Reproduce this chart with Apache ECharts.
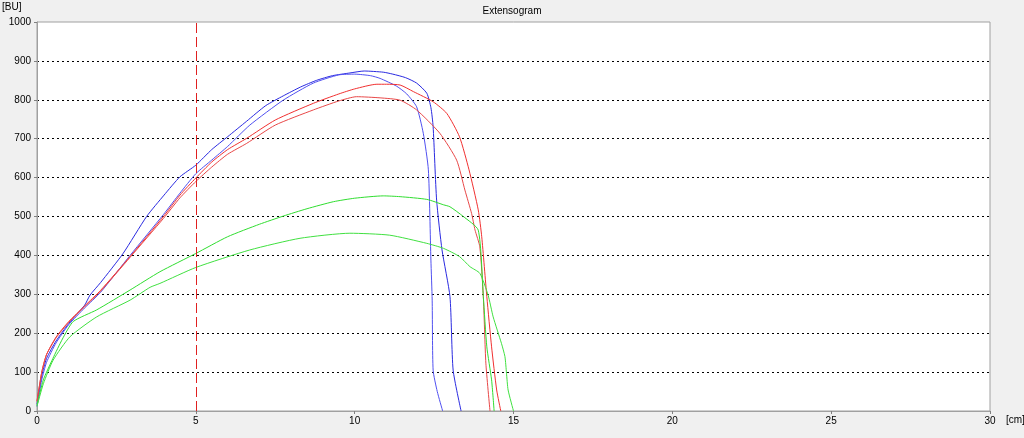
<!DOCTYPE html>
<html>
<head>
<meta charset="utf-8">
<script src="https://cdn.jsdelivr.net/npm/echarts@6/dist/echarts.min.js"></script>
<style>
html,body{margin:0;padding:0;background:#f0f0f0;}
#c{width:1024px;height:438px;}
</style>
</head>
<body>
<div id="c"></div>
<script>
const xTicks = [0, 5, 10, 15, 20, 25, 30];
const yTicks = [0, 100, 200, 300, 400, 500, 600, 700, 800, 900, 1000];

const blueAx = [0, 0.15, 0.3, 0.6, 1.0, 1.5, 1.67, 2.0, 2.71, 3.45, 4.0, 4.5, 5.0, 5.5, 6.0, 6.6, 7.2, 7.75, 8.3, 8.8, 9.3, 9.85, 10.3, 10.9, 11.2, 11.6, 11.95, 12.27, 12.4, 12.47, 12.58, 12.75, 13.0, 13.1, 13.35];
const blueAy = [18, 90, 135, 180, 225, 272, 298, 330, 405, 500, 555, 602, 632, 672, 705, 745, 785, 810, 833, 850, 862, 869, 874, 871, 866, 857, 843, 817, 780, 731, 542, 414, 294, 105, 0];

const blueBx = [0, 0.15, 0.3, 0.6, 1.0, 1.5, 2.0, 2.93, 3.98, 4.5, 5.0, 5.5, 6.0, 6.7, 7.75, 8.7, 9.5, 10.0, 10.5, 10.8, 11.32, 11.64, 11.95, 12.16, 12.32, 12.4, 12.44, 12.47, 12.6, 12.77];
const blueBy = [12, 80, 125, 175, 222, 265, 305, 400, 505, 560, 610, 645, 680, 735, 799, 843, 864, 866, 862, 855, 835, 815, 782, 714, 620, 388, 285, 105, 50, 0];

const redAx = [0, 0.15, 0.3, 0.6, 1.0, 1.5, 2.0, 2.93, 3.98, 4.5, 5.0, 5.5, 6.0, 6.6, 7.5, 8.7, 9.5, 10.0, 10.7, 11.0, 11.43, 11.85, 12.47, 12.9, 13.3, 13.6, 13.89, 14.0, 14.16, 14.31, 14.47, 14.6];
const redAy = [25, 100, 145, 190, 230, 270, 310, 397, 500, 555, 599, 640, 672, 701, 748, 791, 815, 828, 840, 840, 838, 821, 795, 765, 705, 620, 517, 448, 294, 165, 54, 0];

const redBx = [0, 0.15, 0.3, 0.6, 1.0, 1.5, 2.0, 2.93, 3.98, 4.5, 5.0, 5.5, 6.0, 6.6, 7.5, 8.7, 9.5, 10.06, 10.8, 11.43, 11.95, 12.68, 13.21, 13.47, 13.68, 13.79, 13.94, 14.05, 14.13, 14.26];
const redBy = [25, 100, 145, 188, 228, 268, 308, 395, 495, 548, 590, 627, 660, 688, 735, 774, 797, 808, 805, 799, 774, 714, 645, 568, 508, 465, 422, 294, 123, 0];

const greenAx = [0, 0.2, 0.5, 0.8, 1.14, 1.88, 2.93, 3.87, 5.0, 6.0, 7.0, 7.75, 8.5, 9.33, 10.0, 10.9, 11.43, 12.27, 12.8, 13.0, 13.42, 13.89, 14.05, 14.16, 14.31, 14.39];
const greenAy = [15, 80, 135, 185, 230, 260, 311, 358, 405, 448, 480, 501, 520, 538, 547, 553, 551, 544, 530, 525, 500, 465, 294, 165, 80, 0];

const greenBx = [0, 0.2, 0.51, 1.04, 1.88, 2.93, 3.56, 3.87, 5.0, 6.7, 8.28, 9.85, 11.1, 12.27, 12.8, 13.3, 13.63, 13.94, 14.2, 14.36, 14.62, 14.73, 14.78, 14.83, 15.0];
const greenBy = [12, 70, 131, 191, 242, 285, 318, 328, 369, 414, 444, 457, 452, 431, 418, 397, 371, 354, 298, 242, 174, 140, 97, 54, 0];

const markerX = 5;

function pairs(xs, ys) { return xs.map((x, i) => [x, ys[i]]); }

const chart = echarts.init(document.getElementById('c'), null, {renderer: 'canvas'});
const lineSeries = (name, xs, ys, color) => ({
  name, type: 'line', data: pairs(xs, ys), showSymbol: false, symbol: 'none',
  smooth: 0.2,
  lineStyle: {color, width: 1}, animation: false, z: 3
});
const font = 'Liberation Sans, Arial, sans-serif';
chart.setOption({
  backgroundColor: '#f0f0f0',
  animation: false,
  title: {text: 'Extensogram', left: 'center', top: 1,
    textStyle: {fontSize: 10, fontWeight: 'normal', color: '#000', fontFamily: font}},
  grid: {left: 37, right: 34, top: 22, bottom: 27, show: true, backgroundColor: '#ffffff', borderColor: '#a0a0a0', borderWidth: 1},
  xAxis: {type: 'value', min: 0, max: 30, interval: 5,
    axisLine: {show: true, lineStyle: {color: '#a0a0a0'}},
    axisTick: {show: true, length: 3, lineStyle: {color: '#808080'}},
    axisLabel: {color: '#000', fontSize: 10, fontFamily: font, margin: 5,
      formatter: v => xTicks.includes(v) ? String(v) : ''},
    splitLine: {show: false}},
  yAxis: {type: 'value', min: 0, max: 1000, interval: 100,
    axisLine: {show: true, lineStyle: {color: '#a0a0a0'}},
    axisTick: {show: true, length: 3, lineStyle: {color: '#808080'}},
    axisLabel: {color: '#000', fontSize: 10, fontFamily: font, margin: 6,
      formatter: v => yTicks.includes(v) ? String(v) : ''},
    splitLine: {show: true, showMinLine: false, showMaxLine: false, lineStyle: {color: '#000', type: [2, 3], width: 1}}},
  graphic: [
    {type: 'text', left: 2, top: 2, style: {text: '[BU]', fontSize: 10, fontFamily: font, fill: '#000'}},
    {type: 'text', left: 1006, top: 415, style: {text: '[cm]', fontSize: 10, fontFamily: font, fill: '#000'}}
  ],
  series: [
    Object.assign(lineSeries('Blue A', blueAx, blueAy, '#2a2ae0'), {
      markLine: {silent: true, symbol: 'none', label: {show: false},
        lineStyle: {color: '#e02020', type: [10, 4], width: 1},
        data: [{xAxis: markerX}], animation: false}
    }),
    lineSeries('Blue B', blueBx, blueBy, '#5050f0'),
    lineSeries('Red A', redAx, redAy, '#f03030'),
    lineSeries('Red B', redBx, redBy, '#e84848'),
    lineSeries('Green A', greenAx, greenAy, '#30dd30'),
    lineSeries('Green B', greenBx, greenBy, '#40e040')
  ]
});
</script>
</body>
</html>
